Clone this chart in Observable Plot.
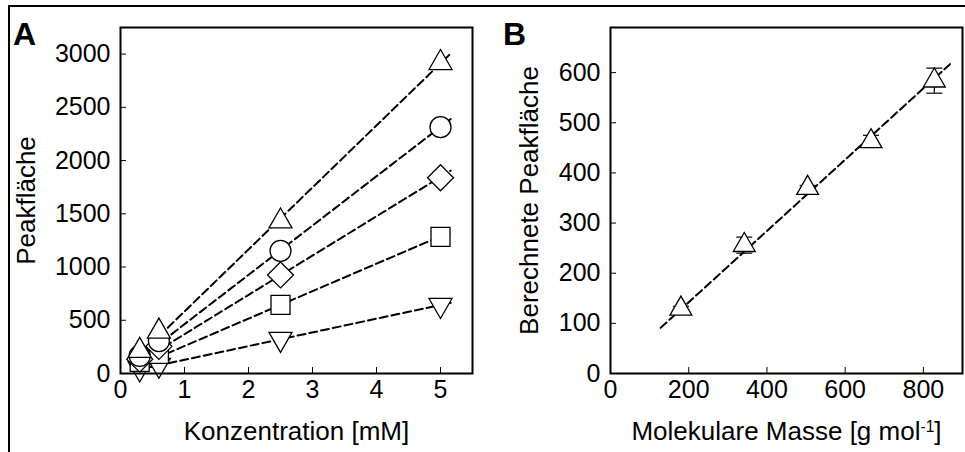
<!DOCTYPE html>
<html>
<head>
<meta charset="utf-8">
<script src="https://cdn.jsdelivr.net/npm/d3@7"></script>
<script src="https://cdn.jsdelivr.net/npm/@observablehq/plot@0.6"></script>
<style>
  html, body { margin: 0; padding: 0; background: #fff; }
  #wrap { position: relative; width: 965px; height: 452px; overflow: hidden; font-family: "Liberation Sans", Arial, sans-serif; }
  #border { position: absolute; left: 8px; top: 5px; width: 3000px; height: 3000px; border: 2px solid #000; }
  .panel { position: absolute; top: 0; }
  .tag { position: absolute; top: 18px; font-size: 32px; line-height: 32px; font-weight: bold; color: #000; }
</style>
</head>
<body>
<div id="wrap">
  <div id="border"></div>
  <div id="panelA" class="panel" style="left:0px"></div>
  <div id="panelB" class="panel" style="left:480px"></div>
  <div class="tag" style="left:13px">A</div>
  <div class="tag" style="left:503px">B</div>
</div>
<script>
// ---------- Panel A data ----------
const concA = [0.3, 0.6, 2.5, 5];
const areaTriangleUp = [215, 395, 1430, 2918];
const areaCircle = [165, 305, 1152, 2314];
const areaDiamond = [135, 255, 926, 1839];
const areaSquare = [110, 185, 644, 1284];
const areaTriangleDown = [45, 80, 323, 642];
const fitRangeA = [0.2, 5.16];
const xTicksA = [0, 1, 2, 3, 4, 5];
const yTicksA = [0, 500, 1000, 1500, 2000, 2500, 3000];
const xLabelA = "Konzentration [mM]";
const yLabelA = "Peakfläche";

// ---------- Panel B data ----------
const massB = [180, 342, 504, 666, 828];
const areaB = [129, 256, 370, 463, 584];
const errB = [5, 16, 5, 12, 25];
const fitRangeB = [128, 868];
const xTicksB = [0, 200, 400, 600, 800];
const yTicksB = [0, 100, 200, 300, 400, 500, 600];
const xLabelB = ["Molekulare Masse [g mol", "-1", "]"];
const yLabelB = "Berechnete Peakfläche";

// ---------- custom marker shapes ----------
const rad = (size) => Math.sqrt(size / Math.PI);
const triUp = { draw(c, s) { const r = rad(s); c.moveTo(0, -1.33 * r); c.lineTo(1.15 * r, 0.67 * r); c.lineTo(-1.15 * r, 0.67 * r); c.closePath(); } };
const triDown = { draw(c, s) { const r = rad(s); c.moveTo(0, 1.33 * r); c.lineTo(1.15 * r, -0.67 * r); c.lineTo(-1.15 * r, -0.67 * r); c.closePath(); } };
const circ = { draw(c, s) { const r = rad(s) * 1.05; c.moveTo(r, 0); c.arc(0, 0, r, 0, 2 * Math.PI); c.closePath(); } };
const diam = { draw(c, s) { const r = rad(s) * 1.3; c.moveTo(0, -r); c.lineTo(r, 0); c.lineTo(0, r); c.lineTo(-r, 0); c.closePath(); } };
const sq = { draw(c, s) { const r = rad(s) * 0.95; c.rect(-r, -r, 2 * r, 2 * r); } };
const capLine = { draw(c, s) { const r = rad(s); c.moveTo(-r, 0); c.lineTo(r, 0); } };

const seriesA = [
  { name: "triUp", values: areaTriangleUp, symbol: triUp },
  { name: "circle", values: areaCircle, symbol: circ },
  { name: "diamond", values: areaDiamond, symbol: diam },
  { name: "square", values: areaSquare, symbol: sq },
  { name: "triDown", values: areaTriangleDown, symbol: triDown }
];

// through-origin least-squares slope
function slope0(xs, ys) {
  const sxy = d3.sum(xs, (x, i) => x * ys[i]);
  const sxx = d3.sum(xs, (x) => x * x);
  return sxy / sxx;
}

const fitRowsA = seriesA.flatMap((s) => {
  const k = slope0(concA, s.values);
  return fitRangeA.map((x) => ({ name: s.name, x, y: k * x }));
});

const font = { fontFamily: "'Liberation Sans', Arial, sans-serif", fontSize: "25px", color: "#000", background: "transparent", overflow: "visible" };
const fmt = d3.format("d");
const dash = { stroke: "#000", strokeWidth: 2, strokeDasharray: "8,4" };

const marksA = [
  Plot.axisX({ ticks: xTicksA, tickFormat: fmt, tickSize: -6, tickPadding: 13, fontSize: 25, label: null }),
  Plot.axisX({ ticks: [], label: xLabelA, labelAnchor: "center", labelArrow: "none", labelOffset: 66, fontSize: 26 }),
  Plot.axisY({ ticks: yTicksA, tickFormat: fmt, tickSize: -6, tickPadding: 16, fontSize: 25, label: null }),
  Plot.axisY({ ticks: [], label: yLabelA, labelAnchor: "center", labelArrow: "none", labelOffset: 104, fontSize: 26 }),
  Plot.line(fitRowsA, { x: "x", y: "y", z: "name", ...dash })
];
// draw from bottom series up so upper markers sit on top
[...seriesA].reverse().forEach((s) => {
  const rows = concA.map((x, i) => ({ x, y: s.values[i] }));
  marksA.push(Plot.dot(rows, { x: "x", y: "y", r: 10, symbol: s.symbol, fill: "#fff", stroke: "#000", strokeWidth: 1.3 }));
});
marksA.push(Plot.frame({ stroke: "#000", strokeWidth: 2 }));

const plotA = Plot.plot({
  width: 480, height: 452,
  marginLeft: 120, marginRight: 8, marginTop: 27, marginBottom: 79,
  style: font,
  x: { domain: [0, 5.5] },
  y: { domain: [0, 3250] },
  marks: marksA
});
document.getElementById("panelA").appendChild(plotA);

// ---------- Panel B ----------
const rowsB = massB.map((x, i) => ({ x, y: areaB[i], lo: areaB[i] - errB[i], hi: areaB[i] + errB[i] }));
const kB = slope0(massB, areaB);
const fitRowsB = fitRangeB.map((x) => ({ x, y: kB * x }));

const plotB = Plot.plot({
  width: 485, height: 452,
  marginLeft: 130, marginRight: 3, marginTop: 27, marginBottom: 79,
  style: font,
  x: { domain: [0, 900] },
  y: { domain: [0, 690] },
  marks: [
    Plot.axisX({ ticks: xTicksB, tickFormat: fmt, tickSize: -6, tickPadding: 13, fontSize: 25, label: null }),
    Plot.axisX({ ticks: [], label: xLabelB.join(""), labelAnchor: "center", labelArrow: "none", labelOffset: 66, fontSize: 26, ariaLabel: "x-label-b" }),
    Plot.axisY({ ticks: yTicksB, tickFormat: fmt, tickSize: -6, tickPadding: 16, fontSize: 25, label: null }),
    Plot.axisY({ ticks: [], label: yLabelB, labelAnchor: "center", labelArrow: "none", labelOffset: 91, fontSize: 26 }),
    Plot.ruleX(rowsB, { x: "x", y1: "lo", y2: "hi", stroke: "#000", strokeWidth: 1.2 }),
    Plot.dot(rowsB, { x: "x", y: "lo", r: 8, symbol: capLine, stroke: "#000", strokeWidth: 1.2 }),
    Plot.dot(rowsB, { x: "x", y: "hi", r: 8, symbol: capLine, stroke: "#000", strokeWidth: 1.2 }),
    Plot.line(fitRowsB, { x: "x", y: "y", ...dash }),
    Plot.dot(rowsB, { x: "x", y: "y", r: 9.5, symbol: triUp, fill: "#fff", stroke: "#000", strokeWidth: 1.3 }),
    Plot.frame({ stroke: "#000", strokeWidth: 2 })
  ]
});
document.getElementById("panelB").appendChild(plotB);

// render the exponent of the B x label as a real superscript
const full = xLabelB.join("");
d3.select(plotB).selectAll("text").filter(function () { return this.textContent === full; }).each(function () {
  const t = d3.select(this);
  t.text(null);
  t.append("tspan").text(xLabelB[0]);
  t.append("tspan").attr("dy", "-0.45em").attr("font-size", "0.6em").text(xLabelB[1]);
  t.append("tspan").attr("dy", "0.27em").text(xLabelB[2]);
});
</script>
</body>
</html>
